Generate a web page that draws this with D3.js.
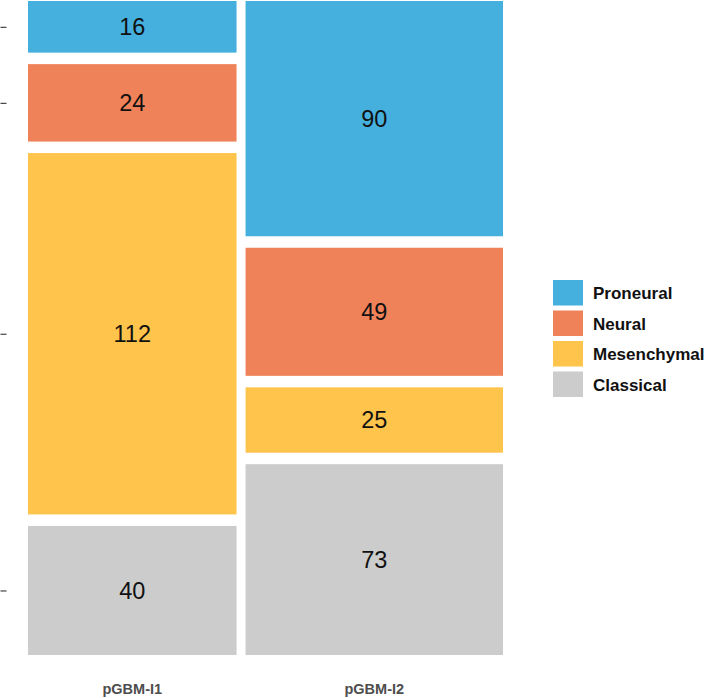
<!DOCTYPE html>
<html>
<head>
<meta charset="utf-8">
<script src="https://cdn.jsdelivr.net/npm/d3@7"></script>
<style>
  body { margin: 0; background: #fff; }
  text { font-family: 'Liberation Sans', Arial, sans-serif; }
</style>
</head>
<body>
<div id="vis"></div>
<script>
const FRAME_WIDTH = 709;
const FRAME_HEIGHT = 698;
const PLOT = { left: 28, right: 503, top: 1, bottom: 655 };
const GAP = 9;     // gap between columns
const VGAP = 11.5; // gap between stacked tiles

// data
const groups = ['pGBM-I1', 'pGBM-I2'];
const subtypes = ['Proneural', 'Neural', 'Mesenchymal', 'Classical'];
const countsI1 = [16, 24, 112, 40];
const countsI2 = [90, 49, 25, 73];
const colors = ['#45B0DE', '#F0825A', '#FEC44B', '#CCCCCC'];

const counts = [countsI1, countsI2];
const totals = counts.map((c) => d3.sum(c));
const grand = d3.sum(totals);

const FRAME = d3
  .select('#vis')
  .append('svg')
  .attr('width', FRAME_WIDTH)
  .attr('height', FRAME_HEIGHT);

// column widths proportional to group totals
const X_SCALE = d3
  .scaleLinear()
  .domain([0, grand])
  .range([PLOT.left, PLOT.right - GAP * (groups.length - 1)]);

const COLOR = d3.scaleOrdinal().domain(subtypes).range(colors);

const tiles = [];
const colCenters = [];
let xCum = 0;
groups.forEach((g, i) => {
  const x0 = X_SCALE(xCum) + i * GAP;
  const w = X_SCALE(totals[i]) - X_SCALE(0);
  colCenters.push(x0 + w / 2);
  const Y_SCALE = d3
    .scaleLinear()
    .domain([0, totals[i]])
    .range([PLOT.top, PLOT.bottom - VGAP * (subtypes.length - 1)]);
  let yCum = 0;
  subtypes.forEach((s, j) => {
    const v = counts[i][j];
    const y0 = Y_SCALE(yCum) + j * VGAP;
    const h = Y_SCALE(v) - Y_SCALE(0);
    tiles.push({ group: g, subtype: s, value: v, x: x0, y: y0, w: w, h: h, col: i });
    yCum += v;
  });
  xCum += totals[i];
});

FRAME.selectAll('.tile')
  .data(tiles)
  .enter()
  .append('rect')
  .attr('class', 'tile')
  .attr('x', (d) => d.x)
  .attr('y', (d) => d.y)
  .attr('width', (d) => d.w)
  .attr('height', (d) => d.h)
  .attr('fill', (d) => COLOR(d.subtype));

FRAME.selectAll('.val')
  .data(tiles)
  .enter()
  .append('text')
  .attr('class', 'val')
  .attr('x', (d) => d.x + d.w / 2)
  .attr('y', (d) => d.y + d.h / 2)
  .attr('dy', '0.36em')
  .attr('text-anchor', 'middle')
  .attr('font-size', '23.5px')
  .attr('fill', '#111')
  .text((d) => d.value);

// y ticks sit at the middle of the first column's tiles (no labels)
const tickPos = tiles.filter((d) => d.col === 0).map((d) => d.y + d.h / 2);
const yAxis = FRAME.append('g')
  .attr('transform', 'translate(6.5,0)')
  .call(d3.axisLeft(d3.scaleIdentity()).tickValues(tickPos).tickSize(6).tickSizeOuter(0).tickFormat(''));
yAxis.select('.domain').remove();
yAxis.selectAll('line').attr('stroke', '#333').attr('stroke-width', 1.1);

// x labels
FRAME.selectAll('.xlab')
  .data(groups)
  .enter()
  .append('text')
  .attr('class', 'xlab')
  .attr('x', (d, i) => colCenters[i])
  .attr('y', 693.5)
  .attr('text-anchor', 'middle')
  .attr('font-size', '14.5px')
  .attr('font-weight', 'bold')
  .attr('fill', '#4D4D4D')
  .text((d) => d);

// legend
const legend = FRAME.append('g').attr('transform', 'translate(553,280)');
const items = legend
  .selectAll('.item')
  .data(subtypes)
  .enter()
  .append('g')
  .attr('transform', (d, i) => 'translate(0,' + i * 30.5 + ')');
items.append('rect')
  .attr('width', 30)
  .attr('height', 25.5)
  .attr('fill', (d) => COLOR(d));
items.append('text')
  .attr('x', 40)
  .attr('y', 13)
  .attr('dy', '0.36em')
  .attr('font-size', '17px')
  .attr('font-weight', 'bold')
  .attr('fill', '#111')
  .text((d) => d);
</script>
</body>
</html>
